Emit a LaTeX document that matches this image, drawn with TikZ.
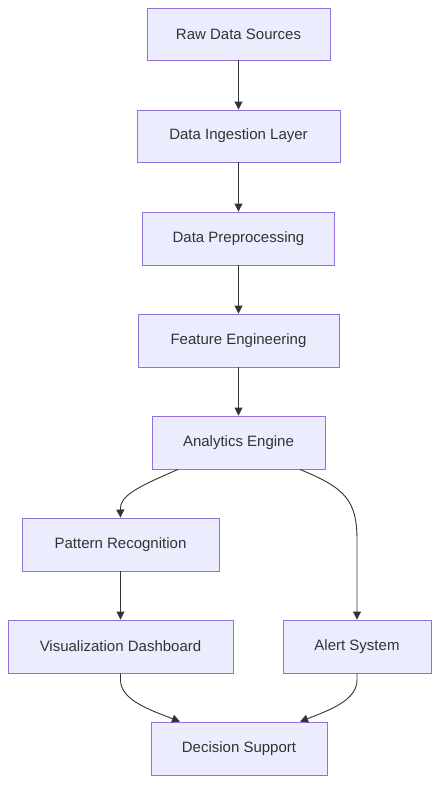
\documentclass[tikz,border=0pt]{standalone}
\usepackage{fontspec}
\setmainfont{Liberation Sans}
\usetikzlibrary{arrows.meta}
\definecolor{nodefill}{HTML}{ECECFF}
\definecolor{nodeline}{HTML}{9370DB}
\definecolor{txt}{HTML}{333333}
\begin{document}
\begin{tikzpicture}[x=1pt,y=1pt,
  box/.style={draw=nodeline, fill=nodefill, line width=0.9pt, rectangle, anchor=center, text=txt, font=\fontsize{15}{17}\selectfont, inner sep=0pt},
  conn/.style={draw=txt, line width=0.9pt, -{Triangle[length=8pt,width=8pt]}}]
\useasboundingbox (0,0) rectangle (447,-798);
\fill[white] (0,0) rectangle (447,-798);
\node[box, minimum width=183, minimum height=52] (a) at (238.5,-34) {Raw Data Sources};
\node[box, minimum width=203, minimum height=52] (b) at (238.5,-136) {Data Ingestion Layer};
\node[box, minimum width=192, minimum height=53] (c) at (238.5,-238.5) {Data Preprocessing};
\node[box, minimum width=201, minimum height=53] (d) at (238.5,-340.5) {Feature Engineering};
\node[box, minimum width=173, minimum height=53] (e) at (238.5,-442.5) {Analytics Engine};
\node[box, minimum width=197, minimum height=53] (f) at (120.5,-544.5) {Pattern Recognition};
\node[box, minimum width=225, minimum height=53] (g) at (120.5,-646.5) {Visualization Dashboard};
\node[box, minimum width=148, minimum height=53] (h) at (357,-646.5) {Alert System};
\node[box, minimum width=176, minimum height=53] (i) at (239,-748.5) {Decision Support};
\draw[conn] (a) -- (b);
\draw[conn] (b) -- (c);
\draw[conn] (c) -- (d);
\draw[conn] (d) -- (e);
\draw[conn] (f) -- (g);
\draw[conn] (e.south -| 178,0) .. controls (135,-488) and (120,-496) .. (f.north);
\draw[conn] (e.south -| 300,0) .. controls (345,-488) and (357,-500) .. (357,-540) -- (h.north);
\draw[conn] (g.south) -- (120.5,-680) .. controls (120.5,-700) and (150,-710) .. (i.north -| 180,0);
\draw[conn] (h.south) -- (357,-680) .. controls (357,-700) and (330,-710) .. (i.north -| 300,0);
\end{tikzpicture}
\end{document}
